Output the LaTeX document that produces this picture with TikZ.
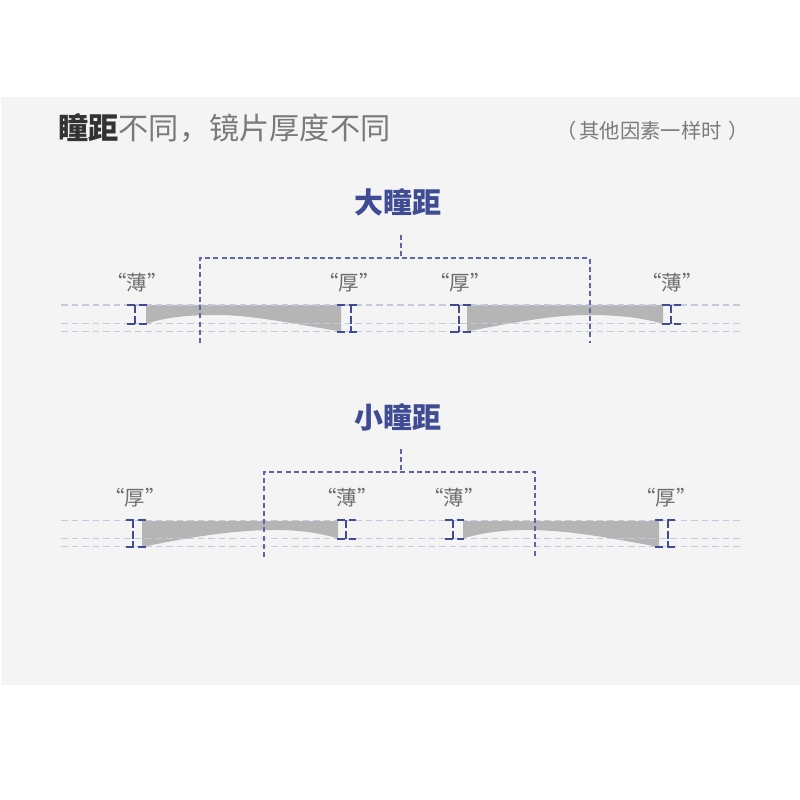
\documentclass[tikz,border=0pt]{standalone}
\usepackage{fontspec}
\newfontfamily\cjk{Noto Sans CJK SC}
\definecolor{pagegray}{HTML}{F4F4F4}
\definecolor{lensgray}{HTML}{B5B5B5}
\definecolor{guideblue}{HTML}{C6C9DE}
\definecolor{markblue}{HTML}{3F4C94}
\definecolor{textgray}{HTML}{7A7A7A}
\tikzset{
  guide/.style={guideblue, line width=1.3pt, dash pattern=on 6.5pt off 4pt},
  frameline/.style={markblue!85, line width=1.3pt, dash pattern=on 5pt off 3.2pt},
  markline/.style={markblue, line width=1.8pt},
  headtext/.style={font=\cjk\bfseries\fontsize{29}{29}\selectfont, text=markblue, inner sep=0pt},
  quotetext/.style={font=\cjk\fontsize{20.5}{20.5}\selectfont, text=textgray!90!black, inner sep=0pt},
}
% left, stem, right, top, bottom
\newcommand{\gapmark}[5]{
  \draw[markline] (#1,#4) -- ({(#1+#3)/2-2},#4) (#1,#5) -- ({(#1+#3)/2-2},#5);
  \draw[markline] ({(#1+#3)/2+2},#4) -- (#3,#4) ({(#1+#3)/2+2},#5) -- (#3,#5);
  \draw[markline, dash pattern=on 8pt off 2.5pt] (#2,#4) -- (#2,#5);
}

\begin{document}
\begin{tikzpicture}[x=1pt,y=-1pt]
\useasboundingbox (0,0) rectangle (800,800);
\fill[pagegray] (1,97) rectangle (800,685);

% titles
\node[anchor=west, inner sep=0pt, text=textgray, font=\cjk\fontsize{30.2}{30.2}\selectfont] (title) at (58,128) {{\bfseries\textcolor{black!80}{瞳距}}不同，镜片厚度不同};
\node[anchor=west, inner sep=0pt, text=textgray, font=\cjk\fontsize{20.3}{20.3}\selectfont] (note) at (556,131) {（\kern0.15em其他因素一样时\kern0.35em）};
\node[headtext] (bighead) at (398,202) {大瞳距};
\node[headtext] (smallhead) at (398,417) {小瞳距};

% lenses
\fill[lensgray] (146,305) -- (341,305) -- (341,331.5) .. controls (290,323) and (250,315) .. (217,315) .. controls (190,315) and (165,317) .. (146,324) -- cycle;
\fill[lensgray] (467,305) -- (663,305) -- (663,324) .. controls (640,317) and (615,315) .. (587,315) .. controls (555,315) and (515,322) .. (467,331.5) -- cycle;
\fill[lensgray] (142,521) -- (338,521) -- (338,538.5) .. controls (320,533) and (300,530) .. (275,530) .. controls (235,530) and (190,537) .. (142,547) -- cycle;
\fill[lensgray] (463,521) -- (659,521) -- (659,547) .. controls (615,539) and (570,530) .. (527,530) .. controls (505,530) and (485,532) .. (463,538.5) -- cycle;

% guide lines
\foreach \y in {305,323.5,331.5,520.5,538.5,546.5}
  \draw[guide] (61,\y) -- (740,\y);

% dashed frames
\coordinate (bigtop) at (401,235); \coordinate (bigmid) at (401,258);
\coordinate (bigl) at (200,343); \coordinate (bigr) at (590,343);
\draw[frameline] (bigtop) -- (bigmid);
\draw[frameline] (bigl) |- (bigmid) -| (bigr);
\coordinate (smalltop) at (401,449); \coordinate (smallmid) at (401,472);
\coordinate (smalll) at (264,557); \coordinate (smallr) at (535,557);
\draw[frameline] (smalltop) -- (smallmid);
\draw[frameline] (smalll) |- (smallmid) -| (smallr);

% edge marks
\gapmark{127}{135}{147}{305}{324}
\gapmark{337}{351}{357}{305}{332}
\gapmark{450}{459}{471}{305}{332}
\gapmark{662}{671}{681}{305}{324}
\gapmark{126}{133}{146}{520}{547}
\gapmark{337}{346}{356}{520}{539}
\gapmark{445}{453}{464}{520}{539}
\gapmark{655}{668}{675}{520}{547}

% labels
\node[quotetext] (thina) at (137,283) {“薄”};
\node[quotetext] (thicka) at (349,283) {“厚”};
\node[quotetext] (thickb) at (460,283) {“厚”};
\node[quotetext] (thinb) at (672,283) {“薄”};
\node[quotetext] (thickc) at (135,498) {“厚”};
\node[quotetext] (thinc) at (347,498) {“薄”};
\node[quotetext] (thind) at (454,498) {“薄”};
\node[quotetext] (thickd) at (666,498) {“厚”};
\end{tikzpicture}
\end{document}
